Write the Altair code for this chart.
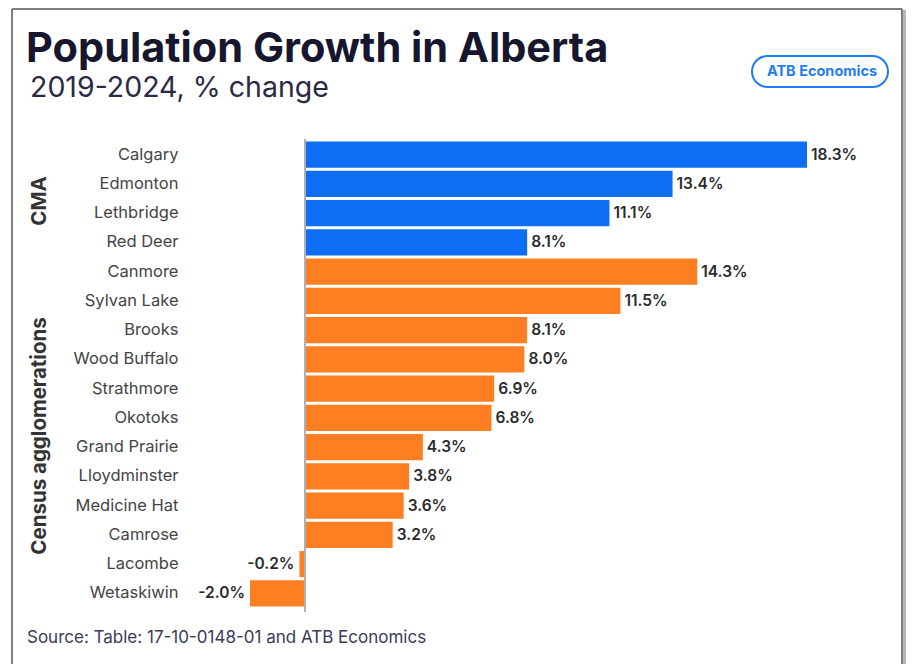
import altair as alt
import pandas as pd

cities = ["Calgary", "Edmonton", "Lethbridge", "Red Deer", "Canmore", "Sylvan Lake",
          "Brooks", "Wood Buffalo", "Strathmore", "Okotoks", "Grand Prairie",
          "Lloydminster", "Medicine Hat", "Camrose", "Lacombe", "Wetaskiwin"]
growth = [18.3, 13.4, 11.1, 8.1, 14.3, 11.5, 8.1, 8.0, 6.9, 6.8, 4.3, 3.8, 3.6, 3.2, -0.2, -2.0]
groups = ["CMA"] * 4 + ["Census agglomerations"] * 12
group_names = ["CMA", "Census agglomerations"]
group_colors = ["#0d6ef3", "#fd7f22"]

FONT = "Inter"

df = pd.DataFrame({"city": cities, "growth": growth, "group": groups})
df["label"] = [f"{v:.1f}%" for v in growth]

xscale = alt.Scale(domain=[-2, 18.3], nice=False)

base = alt.Chart(df)

bars = base.mark_bar().encode(
    x=alt.X("growth:Q", scale=xscale, axis=None),
    y=alt.Y("city:N", sort=None, scale=alt.Scale(paddingInner=0.11),
            axis=alt.Axis(title=None, domain=False, ticks=False, grid=False,
                          labelPadding=72, labelFontSize=16.5, labelColor="#444444",
                          labelFont=FONT)),
    color=alt.Color("group:N", scale=alt.Scale(domain=group_names, range=group_colors), legend=None),
)

labels = base.mark_text(
    align=alt.expr("datum.growth < 0 ? 'right' : 'left'"),
    dx=alt.expr("datum.growth < 0 ? -5 : 4"),
    baseline="middle", fontSize=15.5, fontWeight=600, color="#2b2b2b", font=FONT
).encode(x=alt.X("growth:Q", axis=None), y=alt.Y("city:N", sort=None), text="label:N")

zero_rule = base.mark_rule(color="#b0b0b0", strokeWidth=1.5).encode(
    x=alt.datum(0), y=alt.value(-1), y2=alt.value(472))

one = alt.Chart(pd.DataFrame({"v": [0]}))

frame_left = one.mark_rule(color="#555555", strokeWidth=1.5).encode(
    x=alt.value(-238), y=alt.value(-131), y2=alt.value(530))
frame_top = one.mark_rule(color="#555555", strokeWidth=1.5).encode(
    x=alt.value(-238), x2=alt.value(652), y=alt.value(-131))
frame_right = one.mark_rule(color="#555555", strokeWidth=1.5).encode(
    x=alt.value(652), y=alt.value(-131), y2=alt.value(530))
shadow = one.mark_rule(color="#b8b8b8", strokeWidth=3).encode(
    x=alt.value(654.5), y=alt.value(-130), y2=alt.value(530))

title = one.mark_text(text="Population Growth in Alberta", align="left", baseline="alphabetic",
                      fontSize=41.5, fontWeight="bold", color="#16162e", font=FONT).encode(
    x=alt.value(-224), y=alt.value(-78))
subtitle = one.mark_text(text="2019-2024, % change", align="left", baseline="alphabetic",
                         fontSize=28.5, color="#2a2a44", font=FONT).encode(
    x=alt.value(-220), y=alt.value(-43))

stadium = ("M -0.772,-0.228 L 0.772,-0.228 A 0.228,0.228 0 0 1 0.772,0.228 "
           "L -0.772,0.228 A 0.228,0.228 0 0 1 -0.772,-0.228 Z")
badge = one.mark_point(shape=stadium, size=136 * 136, filled=False, stroke="#1f7cf3",
                       strokeWidth=2, opacity=1).encode(
    x=alt.value(570), y=alt.value(-68.5))
badge_text = one.mark_text(text="ATB Economics", align="center", baseline="middle",
                           fontSize=14.5, fontWeight="bold", color="#1f7cf3", font=FONT).encode(
    x=alt.value(572), y=alt.value(-68.5))

cma_lbl = one.mark_text(text="CMA", angle=270, align="center", baseline="middle",
                        fontSize=20.5, fontWeight="bold", color="#333333", font=FONT).encode(
    x=alt.value(-210), y=alt.value(61))
ca_lbl = one.mark_text(text="Census agglomerations", angle=270, align="center", baseline="middle",
                       fontSize=20.5, fontWeight="bold", color="#333333", font=FONT).encode(
    x=alt.value(-210), y=alt.value(296))

source = one.mark_text(text="Source: Table: 17-10-0148-01 and ATB Economics", align="left",
                       baseline="alphabetic", fontSize=17, color="#3a3a58", font=FONT).encode(
    x=alt.value(-223), y=alt.value(503))

chart = alt.layer(
    bars, labels, zero_rule,
    frame_left, frame_top, frame_right, shadow,
    title, subtitle, badge, badge_text, cma_lbl, ca_lbl, source
).properties(
    width=557, height=468,
    padding={"left": 242, "top": 132, "right": 99, "bottom": 56},
    autosize=alt.AutoSizeParams(type="none"),
    background="white",
).configure_view(stroke=None)

chart.save("out.html", embed_options={"renderer": "svg", "actions": False})
